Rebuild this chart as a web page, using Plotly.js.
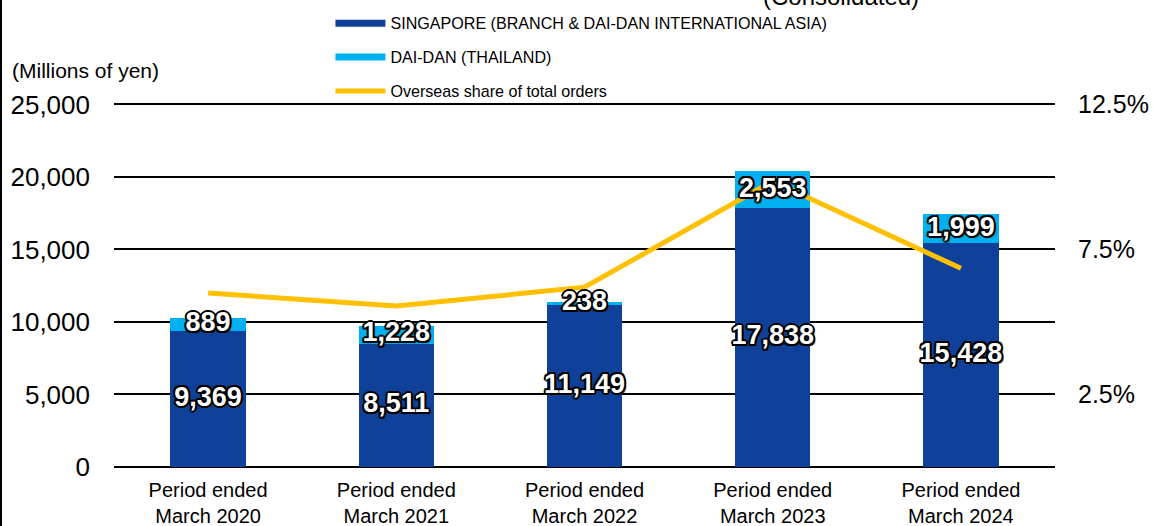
<!DOCTYPE html>
<html><head><meta charset="utf-8">
<script src="https://cdn.plot.ly/plotly-3.0.1.min.js"></script>
<style>
html,body{margin:0;padding:0;background:#fff;}
#chart{width:1153px;height:526px;}
#edge{position:absolute;left:0;top:0;width:2px;height:526px;background:#000;}
</style>
</head><body>
<div id="chart"></div><div id="edge"></div>
<script>
const periods = ['Period ended<br>March 2020','Period ended<br>March 2021','Period ended<br>March 2022','Period ended<br>March 2023','Period ended<br>March 2024'];
const singapore = [9369, 8511, 11149, 17838, 15428];
const thailand = [889, 1228, 238, 2553, 1999];
const overseasShare = [6.0, 5.55, 6.2, 9.85, 6.85];
const leftTicks = [0, 5000, 10000, 15000, 20000, 25000];
const rightTicks = [2.5, 7.5, 12.5];

const FONT = 'Liberation Sans, Arial, sans-serif';
const DARK = '#10419A';
const LIGHT = '#00B0F0';
const GOLD = '#FFC000';
const outline = '-1.5px -1.5px 0 #000, 1.5px -1.5px 0 #000, -1.5px 1.5px 0 #000, 1.5px 1.5px 0 #000, 0 2px 0 #000, 0 -2px 0 #000, 2px 0 0 #000, -2px 0 0 #000, 2px 2px 1px #333';
const fmt = v => v.toLocaleString('en-US');
const LEFT_MAX = 25100;            // small headroom so the 25,000 gridline is drawn
const RIGHT_MAX = LEFT_MAX / 2000; // 25,000 ↔ 12.5 %

const traces = [
  {type:'bar', x:periods, y:singapore, marker:{color:DARK}, showlegend:false, hoverinfo:'skip'},
  {type:'bar', x:periods, y:thailand, marker:{color:LIGHT}, showlegend:false, hoverinfo:'skip'},
  {type:'scatter', mode:'lines', x:[periods[0]], y:[null], line:{color:DARK, width:7}, name:'SINGAPORE (BRANCH &amp; DAI-DAN INTERNATIONAL ASIA)', legendgroup:'a'},
  {type:'scatter', mode:'lines', x:[periods[0]], y:[null], line:{color:LIGHT, width:7}, name:'DAI-DAN (THAILAND)', legendgroup:'b'},
  {type:'scatter', mode:'lines', x:periods, y:overseasShare, yaxis:'y2', line:{color:GOLD, width:5}, name:'Overseas share of total orders', legendgroup:'c', hoverinfo:'skip'},
  {type:'scatter', mode:'text', x:periods, y:singapore.map(v => v/2), yaxis:'y3', text:singapore.map(fmt), showlegend:false, hoverinfo:'skip',
   textposition:'middle center', textfont:{family:FONT, size:27, color:'#fff', weight:700, shadow:outline}},
  {type:'scatter', mode:'text', x:periods, y:thailand.map((v,i) => singapore[i] + v/2), yaxis:'y3', text:thailand.map(fmt), showlegend:false, hoverinfo:'skip',
   textposition:'middle center', textfont:{family:FONT, size:27, color:'#fff', weight:700, shadow:outline}}
];

const layout = {
  width:1153, height:526,
  margin:{l:114, r:98, t:103, b:59, autoexpand:false},
  paper_bgcolor:'#fff', plot_bgcolor:'rgba(0,0,0,0)',
  font:{family:FONT, color:'#000'},
  barmode:'stack', bargap:0.6,
  showlegend:true,
  legend:{x:0.23, xanchor:'left', y:1.266, yanchor:'top', traceorder:'grouped', tracegroupgap:10,
          itemwidth:50, font:{family:FONT, size:16.1, color:'#000'}, bgcolor:'rgba(0,0,0,0)'},
  xaxis:{type:'category', showgrid:false, zeroline:false, showline:false, ticks:'',
         tickfont:{family:FONT, size:20, color:'#000'}, ticklabelstandoff:9},
  yaxis:{range:[0,LEFT_MAX], tickvals:leftTicks, tickformat:',d', showgrid:true, gridcolor:'#000', gridwidth:2,
         zeroline:true, zerolinecolor:'#000', zerolinewidth:2, showline:false, ticks:'',
         tickfont:{family:FONT, size:26, color:'#000'}, ticklabelstandoff:23},
  yaxis2:{overlaying:'y', side:'right', range:[0,RIGHT_MAX], tickmode:'array', tickvals:rightTicks,
          ticktext:rightTicks.map(v => v.toFixed(1) + '%'),
          showgrid:false, zeroline:false, showline:false, ticks:'',
          tickfont:{family:FONT, size:25, color:'#000'}, ticklabelstandoff:22},
  yaxis3:{overlaying:'y', range:[0,LEFT_MAX], visible:false},
  annotations:[
    {xref:'paper', yref:'paper', x:-0.11, y:1.088, xanchor:'left', yanchor:'middle', showarrow:false,
     text:'(Millions of yen)', font:{family:FONT, size:21, color:'#000'}},
    {xref:'paper', yref:'paper', x:0.773, y:1.293, xanchor:'center', yanchor:'middle', showarrow:false,
     text:'(Consolidated)', font:{family:FONT, size:24, color:'#000'}}
  ]
};

Plotly.newPlot('chart', traces, layout, {staticPlot:true, displayModeBar:false});
</script>
</body></html>
